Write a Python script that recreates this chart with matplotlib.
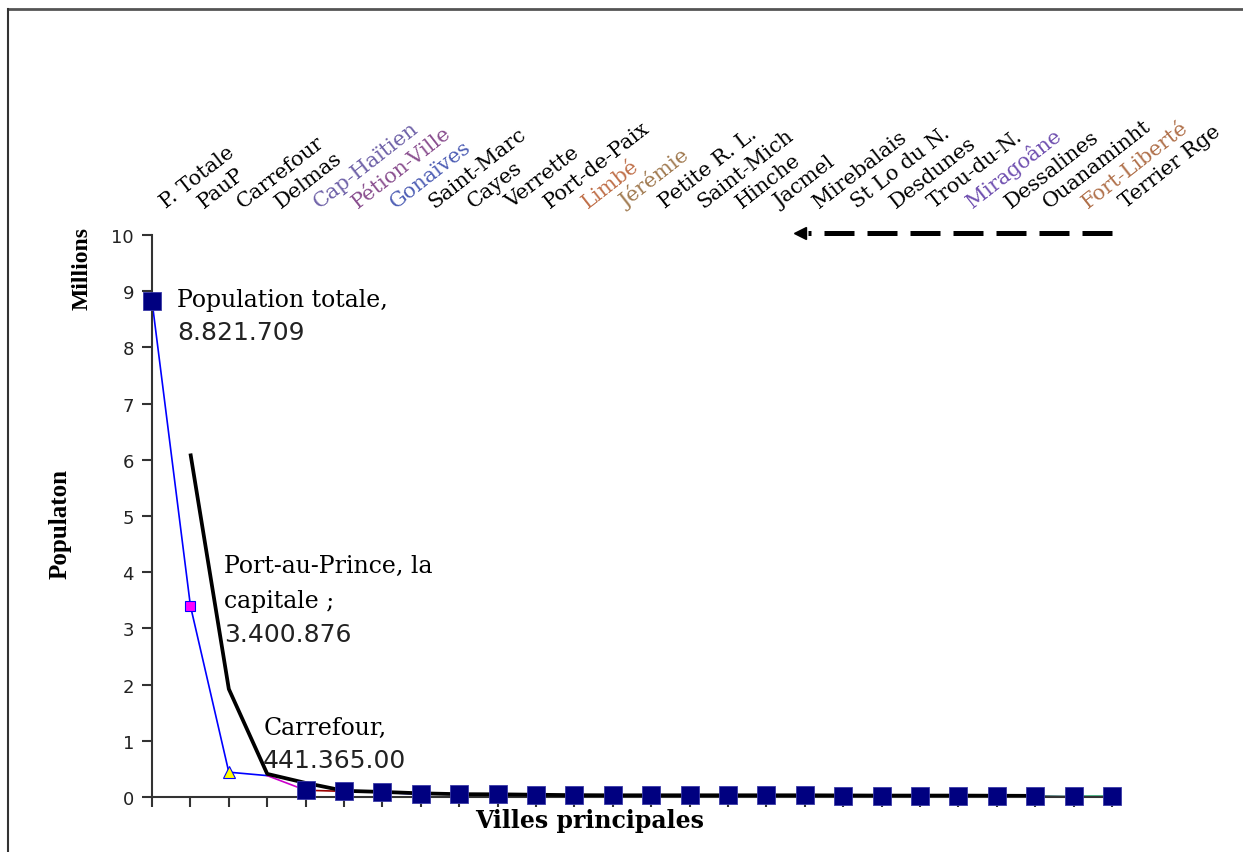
import matplotlib.pyplot as plt
import pandas as pd
from matplotlib.lines import Line2D

# villes principales, dans l'ordre de l'axe
villes = ['P. Totale', 'PauP', 'Carrefour', 'Delmas', 'Cap-Haïtien', 'Pétion-Ville', 'Gonaïves',
          'Saint-Marc', 'Cayes', 'Verrette', 'Port-de-Paix', 'Limbé', 'Jérémie', 'Petite R. L.',
          'Saint-Mich', 'Hinche', 'Jacmel', 'Mirebalais', 'St Lo du N.', 'Desdunes', 'Trou-du-N.',
          'Miragoâne', 'Dessalines', 'Ouanaminht', 'Fort-Liberté', 'Terrier Rge']
# population en millions
population = [8.821709, 3.400876, 0.441365, 0.38, 0.12, 0.10, 0.08, 0.05, 0.05, 0.045, 0.035,
              0.03, 0.03, 0.03, 0.03, 0.03, 0.03, 0.03, 0.025, 0.025, 0.025, 0.025, 0.02, 0.02,
              0.01, 0.01]

# couleurs des etiquettes (les autres en noir)
labelColors = {'Cap-Haïtien': '#6f62a8', 'Pétion-Ville': '#8a4f8f', 'Gonaïves': '#4f5fb5',
               'Limbé': '#c0704a', 'Jérémie': '#a07a50', 'Miragoâne': '#7050b0',
               'Fort-Liberté': '#b0704a'}
# couleur de chaque segment de la courbe
segColors = ['#0000ff'] * 3 + ['#cc00cc', '#990000'] + ['#0000ff'] * 4 + ['#33cc66'] + \
            ['#000080'] * 13 + ['#336666', '#33aa77']

x = list(range(len(villes)))

fig = plt.figure(figsize=(12.43, 8.53), dpi=100)
ax = fig.add_axes([0.1223, 0.0645, 0.7723, 0.6589])

for i in range(len(x) - 1):
    ax.plot(x[i:i + 2], population[i:i + 2], color=segColors[i], lw=1.2, zorder=2, clip_on=False)

# moyenne mobile sur 2 periodes
moyenne = pd.Series(population).rolling(2).mean()
ax.plot(x[1:24], moyenne[1:24], color='black', lw=2.7, zorder=3, solid_capstyle='butt')

carres = [0] + x[4:]
ax.plot(carres, [population[i] for i in carres], 's', ms=12.5, mfc='#000080', mec='#3a3aa8',
        mew=0.6, zorder=4, clip_on=False)
ax.plot(x[1], population[1], 's', ms=6.5, mfc='#ff00ff', mec='#0000ff', mew=0.8, zorder=4)
ax.plot(x[2], population[2], '^', ms=8, mfc='#ffff00', mec='#0000ff', mew=0.8, zorder=4)

ax.set_xlim(0, 25)
ax.set_ylim(0, 10)
ax.set_yticks(range(11))
ax.set_xticks(x)
ax.set_xticklabels([])
ax.tick_params(axis='y', direction='out', length=7, width=1.5, pad=6, labelsize=13,
               labelcolor='#222222', color='#333333')
ax.tick_params(axis='x', direction='out', length=7, width=1.5, color='#333333')
for side in ['top', 'right']:
    ax.spines[side].set_visible(False)
for side in ['left', 'bottom']:
    ax.spines[side].set_color('#333333')
    ax.spines[side].set_linewidth(1.5)

# noms des villes en haut du graphique
for i, ville in enumerate(villes):
    ax.text(i + 0.36, 10.48, ville, rotation=38, rotation_mode='anchor', ha='left',
            va='baseline', fontsize=15, family='DejaVu Serif',
            color=labelColors.get(ville, 'black'), clip_on=False)

# fleche en pointilles
ax.plot([25, 17.08], [10.04, 10.04], color='black', lw=3.6, dashes=(6, 2.6), clip_on=False)
ax.plot(16.88, 10.04, '<', ms=9, color='black', clip_on=False)

# etiquettes de donnees
serif = dict(family='DejaVu Serif', fontsize=17, color='black', textcoords='offset pixels',
             ha='left', va='baseline')
nombre = dict(family='DejaVu Sans', fontsize=18, color='#222222', textcoords='offset pixels',
              ha='left', va='baseline')

def milliers(v, dec=0):
    return f"{v * 1e6:,.{dec}f}".replace(',', '.')

ax.annotate('Population totale,', xy=(0, population[0]), xytext=(25, -5), **serif)
ax.annotate(milliers(population[0]), xy=(0, population[0]), xytext=(25, -38), **nombre)
ax.annotate('Port-au-Prince, la', xy=(1, population[1]), xytext=(34, 34), **serif)
ax.annotate('capitale ;', xy=(1, population[1]), xytext=(34, -1), **serif)
ax.annotate(milliers(population[1]), xy=(1, population[1]), xytext=(34, -35), **nombre)
ax.annotate('Carrefour,', xy=(2, population[2]), xytext=(35, 38), **serif)
ax.annotate(milliers(population[2], 2), xy=(2, population[2]), xytext=(34, 5), **nombre)

fig.text(82 / 1243, 1 - 269 / 853, 'Millions', rotation=90, ha='center', va='center',
         family='Liberation Serif', fontweight='bold', fontsize=17)
fig.text(60 / 1243, 1 - 524 / 853, 'Populaton', rotation=90, ha='center', va='center',
         family='Liberation Serif', fontweight='bold', fontsize=18)
fig.text(590 / 1243, 1 - 828 / 853, 'Villes principales', ha='center', va='baseline',
         family='DejaVu Serif', fontweight='bold', fontsize=17)

# cadre du graphique
fig.add_artist(Line2D([8 / 1243, 1], [1 - 10 / 853, 1 - 10 / 853], transform=fig.transFigure,
                      color='#555555', lw=2))
fig.add_artist(Line2D([8 / 1243, 8 / 1243], [0, 1 - 10 / 853], transform=fig.transFigure,
                      color='#333333', lw=1.5))

fig.savefig('out.png', dpi=100)
